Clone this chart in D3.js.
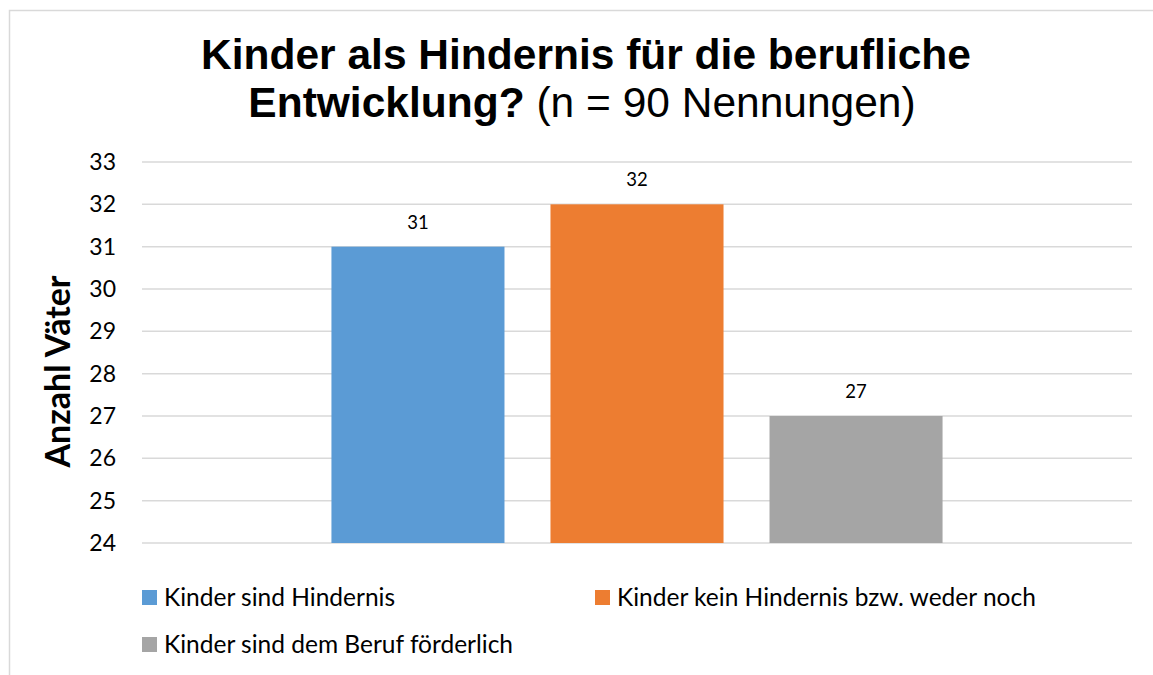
<!DOCTYPE html>
<html lang="de">
<head>
<meta charset="UTF-8">
<title>Kinder als Hindernis für die berufliche Entwicklung?</title>
<style>
  body { margin: 0; background: #fff; }
  svg text { fill: #000; }
  .tick text { font-family: Lato, "Open Sans", sans-serif; }
</style>
<script src="https://d3js.org/d3.v7.min.js"></script>
</head>
<body>
<div id="chart"></div>
<script>
// data
var categories = ["Anzahl"];
var seriesNames = ["Kinder sind Hindernis", "Kinder kein Hindernis bzw. weder noch", "Kinder sind dem Beruf förderlich"];
var seriesValues = [31, 32, 27];
var seriesColors = ["#5b9bd5", "#ed7d31", "#a5a5a5"];
var yTicks = [24, 25, 26, 27, 28, 29, 30, 31, 32, 33];

var W = 1153, H = 675;
var margin = {top: 162, right: 21, bottom: 132, left: 142},
    width = W - margin.left - margin.right,
    height = H - margin.top - margin.bottom;

var root = d3.select("#chart").append("svg")
    .attr("width", W)
    .attr("height", H);

// chart border
root.append("rect")
    .attr("x", 9.5).attr("y", 10.5)
    .attr("width", W + 10).attr("height", H + 10)
    .attr("fill", "none")
    .attr("stroke", "#d9d9d9")
    .attr("stroke-width", 1.5);

// title
var title = root.append("text")
    .attr("text-anchor", "middle")
    .style("font-family", "'Liberation Sans', Arial, sans-serif")
    .style("font-size", "42.5px");
title.append("tspan")
    .attr("x", 586).attr("y", 69)
    .style("font-weight", "bold")
    .text("Kinder als Hindernis für die berufliche");
var line2 = title.append("tspan")
    .attr("x", 582).attr("y", 117);
line2.append("tspan").style("font-weight", "bold").text("Entwicklung?");
line2.append("tspan").text(" (n = 90 Nennungen)");

var svg = root.append("g")
    .attr("transform", "translate(" + margin.left + "," + margin.top + ")");

var y = d3.scaleLinear()
    .domain([d3.min(yTicks), d3.max(yTicks)])
    .range([height, 0]);

var x0 = d3.scaleBand()
    .domain(categories)
    .range([0, width])
    .paddingOuter(0.31);

var x1 = d3.scaleBand()
    .domain(seriesNames)
    .range([0, x0.bandwidth()])
    .paddingInner(0.21);

// gridlines
svg.append("g")
    .selectAll("line")
    .data(yTicks)
    .enter()
    .append("line")
      .attr("x1", 0).attr("x2", width)
      .attr("y1", function(d) { return y(d); })
      .attr("y2", function(d) { return y(d); })
      .attr("stroke", "#d9d9d9")
      .attr("stroke-width", 1.5);

// y axis labels
var yAxis = svg.append("g")
    .call(d3.axisLeft(y).tickValues(yTicks).tickSize(0).tickPadding(26).tickFormat(d3.format("d")));
yAxis.select(".domain").remove();
yAxis.selectAll("text")
    .style("font-size", "23px")
    .attr("fill", "#000");

// y axis title
svg.append("text")
    .attr("transform", "translate(-72," + (height / 2 + 19) + ") rotate(-90)")
    .attr("text-anchor", "middle")
    .style("font-family", "Lato, sans-serif")
    .style("font-weight", "bold")
    .style("font-size", "34px")
    .text("Anzahl Väter");

// bars
var data = seriesNames.map(function(name, i) {
  return {cat: categories[0], name: name, value: seriesValues[i], color: seriesColors[i]};
});

var groups = svg.selectAll(".grp")
    .data(categories)
    .enter()
    .append("g")
      .attr("transform", function(d) { return "translate(" + x0(d) + ",0)"; });

groups.selectAll("rect")
    .data(data)
    .enter()
    .append("rect")
      .attr("x", function(d) { return x1(d.name); })
      .attr("width", x1.bandwidth())
      .attr("y", function(d) { return y(d.value); })
      .attr("height", function(d) { return height - y(d.value); })
      .attr("fill", function(d) { return d.color; });

groups.selectAll(".lbl")
    .data(data)
    .enter()
    .append("text")
      .attr("x", function(d) { return x1(d.name) + x1.bandwidth() / 2; })
      .attr("y", function(d) { return y(d.value) - 18; })
      .attr("text-anchor", "middle")
      .style("font-family", "Lato, sans-serif")
      .style("font-size", "18.5px")
      .text(function(d) { return d.value; });

// legend
var legendPos = [[0, 0], [453, 0], [0, 47]];
var legend = svg.append("g")
    .attr("transform", "translate(0," + (height + 47) + ")");

var items = legend.selectAll("g")
    .data(data)
    .enter()
    .append("g")
      .attr("transform", function(d, i) { return "translate(" + legendPos[i][0] + "," + legendPos[i][1] + ")"; });

items.append("rect")
    .attr("x", 0).attr("y", 0)
    .attr("width", 15).attr("height", 15)
    .attr("fill", function(d) { return d.color; });

items.append("text")
    .attr("x", 22).attr("y", 16)
    .style("font-family", "Lato, sans-serif")
    .style("font-size", "24.5px")
    .text(function(d) { return d.name; });
</script>
</body>
</html>
